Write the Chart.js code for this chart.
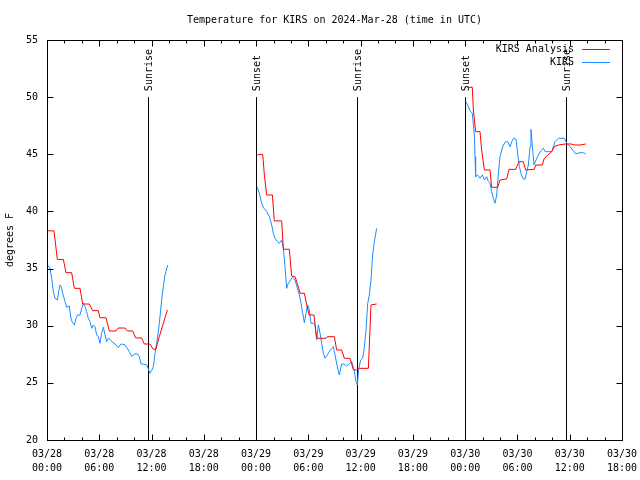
<!DOCTYPE html>
<html lang="en">
<head>
  <meta charset="UTF-8">
  <title>Temperature for KIRS</title>
  <script src="https://cdn.jsdelivr.net/npm/chart.js"></script>
  <style>
    html, body { margin: 0; padding: 0; background: #fff; }
    canvas { display: block; }
  </style>
</head>
<body>
  <canvas id="tempChart" width="640" height="480"></canvas>
  <script>
    // x = hours since 2024-03-28 00:00 UTC, null marks a gap between runs
    const analysisHours = [0.1, 0.8, 1.19, 1.88, 2.18, 2.83, 3.14, 3.79, 4.1, 4.86, 5.24, 5.89, 6.08, 6.77, 7.15, 7.92,
      8.18, 8.95, 9.22, 9.83, 10.18, 10.87, 11.17, 11.82, 12.2, 12.5, 12.89, 13.81, null,
      24.14, 24.76, 24.95, 25.21, 25.87, 26.09, 26.94, 27.13, 27.82, 28.08, 28.47, 28.85, 29.04, 29.54, 29.81, 30.08,
      30.65, 30.88, 31.03, 32.03, 32.18, 32.98, 33.25, 33.82, 34.13, 34.78, 35.17, 35.55, 35.85, 36.89, 37.19, 37.84, null,
      48.2, 48.82, 48.94, 49.2, 49.7, 49.89, 50.2, 50.85, 51.04, 51.73, 52.0, 52.76, 53.03, 53.8, 54.17, 54.67, 54.94,
      55.94, 56.09, 56.85, 57.08, 57.93, 58.23, 58.7, 59.46, 60.15, 60.61, 61.18, 61.83];
    const analysisTemps = [38.3, 38.3, 35.8, 35.8, 34.64, 34.64, 33.27, 33.27, 31.9, 31.9, 31.32, 31.32, 30.7, 30.7, 29.54, 29.54,
      29.8, 29.8, 29.54, 29.54, 28.93, 28.93, 28.4, 28.4, 27.94, 27.94, 29.04, 31.38, null,
      44.94, 45.0, 43.19, 41.44, 41.44, 39.17, 39.17, 36.69, 36.69, 34.35, 34.29, 33.42, 32.84, 32.84, 31.82, 30.94,
      30.94, 29.34, 28.9, 28.9, 29.04, 29.04, 27.88, 27.88, 27.15, 27.15, 26.13, 26.13, 26.27, 26.27, 31.82, 31.9, null,
      50.86, 50.86, 48.88, 46.98, 46.98, 45.38, 43.63, 43.63, 42.11, 42.11, 42.75, 42.84, 43.68, 43.68, 44.35, 44.35, 43.63,
      43.68, 44.06, 44.06, 44.65, 45.23, 45.67, 45.81, 45.9, 45.9, 45.81, 45.81, 45.9];

    const kirsHours = [0.05, 0.34, 0.54, 0.73, 0.92, 1.19, 1.34, 1.49, 1.65, 1.8, 2.07, 2.26, 2.56, 2.75, 2.95, 3.14, 3.33,
      3.52, 3.79, 4.02, 4.17, 4.4, 4.55, 4.74, 4.94, 5.13, 5.32, 5.51, 5.7, 5.89, 6.08, 6.27, 6.47, 6.66, 6.85, 7.04,
      7.23, 7.42, 7.81, 8.0, 8.19, 8.38, 8.57, 8.95, 9.14, 9.45, 9.72, 9.91, 10.1, 10.37, 10.6, 10.79, 11.06, 11.44,
      11.63, 11.82, 12.01, 12.21, 12.4, 12.59, 12.78, 12.97, 13.16, 13.35, 13.54, 13.85, null,
      24.14, 24.37, 24.64, 24.91, 25.22, 25.52, 25.79, 25.98, 26.17, 26.44, 26.67, 26.94, 27.13, 27.32, 27.51, 27.7,
      27.97, 28.2, 28.47, 28.74, 28.97, 29.16, 29.35, 29.54, 29.73, 29.92, 30.11, 30.3, 30.57, 30.76, 30.95, 31.15,
      31.34, 31.53, 31.72, 31.91, 32.18, 32.48, 32.87, 33.06, 33.32, 33.55, 33.82, 34.09, 34.39, 34.7, 34.97, 35.24,
      35.47, 35.62, 35.77, 36.0, 36.23, 36.39, 36.62, 36.81, 37.0, 37.19, 37.38, 37.57, 37.84, null,
      48.09, 48.28, 48.55, 48.82, 49.05, 49.13, 49.2, 49.43, 49.7, 49.97, 50.2, 50.47, 50.66, 50.85, 51.04, 51.23,
      51.42, 51.62, 51.81, 52.0, 52.19, 52.38, 52.65, 52.88, 53.15, 53.34, 53.57, 53.84, 54.03, 54.22, 54.41, 54.6,
      54.87, 55.06, 55.25, 55.44, 55.55, 55.71, 55.9, 56.13, 56.4, 56.71, 56.98, 57.17, 57.93, 58.31, 58.7, 59.39,
      59.66, 60.04, 60.42, 60.69, 61.18, 61.56, 61.83];
    const kirsTemps = [35.31, 35.02, 34.15, 32.98, 32.4, 32.25, 32.98, 33.57, 33.42, 32.84, 32.11, 31.61, 31.73, 30.65, 30.21, 30.07, 30.65,
      30.94, 30.94, 31.61, 31.96, 31.61, 31.23, 30.65, 30.36, 29.77, 30.07, 29.92, 29.19, 29.04, 28.46, 29.34, 29.86, 29.19, 28.61, 28.9,
      28.81, 28.61, 28.4, 28.23, 28.08, 28.32, 28.4, 28.32, 28.11, 27.73, 27.3, 27.44, 27.53, 27.53, 27.3, 26.65, 26.63, 26.57,
      26.22, 25.84, 26.07, 26.42, 27.59, 28.46, 29.48, 30.79, 32.25, 33.42, 34.44, 35.31, null,
      42.11, 41.59, 40.71, 40.27, 39.98, 39.54, 38.82, 38.09, 37.65, 37.36, 37.21, 37.5, 36.77, 35.17, 33.27, 33.71,
      34.0, 34.24, 34.0, 33.27, 32.69, 31.96, 31.09, 30.27, 31.09, 31.82, 31.38, 30.21, 30.21, 30.07, 28.75, 30.07,
      29.34, 28.46, 27.59, 27.15, 27.44, 27.82, 28.17, 27.44, 26.42, 25.69, 26.65, 26.65, 26.48, 26.65, 26.86, 26.13,
      25.11, 24.82, 26.13, 27.0, 27.15, 27.88, 29.63, 31.96, 32.69, 34.0, 36.19, 37.36, 38.52, null,
      49.6, 49.31, 48.82, 48.58, 46.69, 44.79, 43.04, 43.19, 42.9, 43.19, 42.75, 43.04, 42.61, 42.46, 41.73, 41.15,
      40.71, 41.44, 43.33, 44.79, 45.38, 45.81, 46.1, 46.1, 45.67, 46.1, 46.4, 46.31, 45.03, 43.92, 43.33, 42.9,
      42.81, 43.48, 44.06, 45.67, 47.18, 45.67, 44.06, 44.5, 44.94, 45.32, 45.52, 45.23, 45.23, 46.1, 46.4, 46.4,
      45.96, 45.67, 45.29, 45.03, 45.14, 45.14, 45.03];

    const eventHours = [11.6, 24.0, 35.6, 48.0, 59.6];
    const eventLabels = ['Sunrise', 'Sunset', 'Sunrise', 'Sunset', 'Sunrise'];
    const eventTop = 50;

    const xTickLabels = [['03/28', '00:00'], ['03/28', '06:00'], ['03/28', '12:00'], ['03/28', '18:00'],
      ['03/29', '00:00'], ['03/29', '06:00'], ['03/29', '12:00'], ['03/29', '18:00'],
      ['03/30', '00:00'], ['03/30', '06:00'], ['03/30', '12:00'], ['03/30', '18:00']];

    const FONT = '"DejaVu Sans Mono", "Liberation Mono", monospace';

    function toPoints(hours, temps) {
      let last = 0;
      return hours.map((h, i) => {
        if (h === null) return { x: last + 0.5, y: null };
        last = h;
        return { x: h, y: temps[i] };
      });
    }

    // gnuplot-like frame: inward ticks, event markers, key in the corner
    const gnuplotFrame = {
      id: 'gnuplotFrame',
      beforeDatasetsDraw(chart) {
        const { ctx, chartArea: a, scales: { x, y } } = chart;
        ctx.save();
        ctx.strokeStyle = '#000';
        ctx.fillStyle = '#000';
        ctx.lineWidth = 1;
        ctx.font = '10px ' + FONT;
        const top = y.getPixelForValue(eventTop);
        eventHours.forEach((h, i) => {
          const px = Math.round(x.getPixelForValue(h)) + 0.5;
          ctx.beginPath();
          ctx.moveTo(px, top);
          ctx.lineTo(px, a.bottom);
          ctx.stroke();
          ctx.save();
          ctx.translate(px + 1, top - 6);
          ctx.rotate(-Math.PI / 2);
          ctx.textAlign = 'left';
          ctx.textBaseline = 'middle';
          ctx.fillText(eventLabels[i], 0, 0);
          ctx.restore();
        });
        ctx.restore();
      },
      afterDatasetsDraw(chart) {
        const { ctx, chartArea: a, scales: { x, y } } = chart;
        const L = Math.round(a.left) + 0.5, R = Math.round(a.right) + 0.5;
        const T = Math.round(a.top) + 0.5, B = Math.round(a.bottom) + 0.5;
        ctx.save();
        ctx.strokeStyle = '#000';
        ctx.lineWidth = 1;
        ctx.beginPath();
        for (let h = x.min; h <= x.max; h += 2) {
          const px = Math.round(x.getPixelForValue(h)) + 0.5;
          const len = h % 6 === 0 ? 6 : 3;
          ctx.moveTo(px, B); ctx.lineTo(px, B - len);
          ctx.moveTo(px, T); ctx.lineTo(px, T + len);
        }
        for (let v = y.min; v <= y.max; v += 5) {
          const py = Math.round(y.getPixelForValue(v)) + 0.5;
          ctx.moveTo(L, py); ctx.lineTo(L + 6, py);
          ctx.moveTo(R, py); ctx.lineTo(R - 6, py);
        }
        ctx.stroke();
        ctx.strokeRect(L, T, R - L, B - T);

        // key
        ctx.font = '10px ' + FONT;
        ctx.textAlign = 'right';
        ctx.textBaseline = 'middle';
        chart.data.datasets.forEach((ds, i) => {
          const ky = Math.round(a.top + 9 + i * 13) + 0.5;
          ctx.fillStyle = '#000';
          ctx.fillText(ds.label, a.right - 48, ky);
          ctx.strokeStyle = ds.borderColor;
          ctx.beginPath();
          ctx.moveTo(a.right - 40, ky);
          ctx.lineTo(a.right - 12, ky);
          ctx.stroke();
        });
        ctx.restore();
      }
    };

    Chart.defaults.font.family = FONT;
    Chart.defaults.font.size = 10;
    Chart.defaults.color = '#000';

    new Chart(document.getElementById('tempChart'), {
      type: 'line',
      data: {
        datasets: [
          {
            label: 'KIRS Analysis',
            data: toPoints(analysisHours, analysisTemps),
            borderColor: '#ff0000',
            borderWidth: 1,
            pointRadius: 0,
            tension: 0,
            spanGaps: false
          },
          {
            label: 'KIRS',
            data: toPoints(kirsHours, kirsTemps),
            borderColor: '#1a8cff',
            borderWidth: 1,
            pointRadius: 0,
            tension: 0,
            spanGaps: false
          }
        ]
      },
      options: {
        responsive: false,
        animation: false,
        devicePixelRatio: 1,
        layout: { padding: { left: 0, right: 18, top: 0, bottom: 0 } },
        plugins: {
          legend: { display: false },
          tooltip: { enabled: false },
          title: {
            display: true,
            text: 'Temperature for KIRS on 2024-Mar-28 (time in UTC)',
            fullSize: false,
            font: { size: 10, weight: 'normal' },
            padding: { top: 14, bottom: 14 }
          }
        },
        scales: {
          x: {
            type: 'linear',
            min: 0,
            max: 66,
            grid: { display: false, drawTicks: false },
            border: { display: false },
            afterFit(scale) {
              scale.height = 40;
              scale.paddingLeft = 0;
              scale.paddingRight = 0;
            },
            ticks: {
              stepSize: 6,
              autoSkip: false,
              maxRotation: 0,
              padding: 7,
              font: { size: 10, lineHeight: 1.4 },
              callback: (v) => xTickLabels[Math.round(v / 6)]
            }
          },
          y: {
            min: 20,
            max: 55,
            grid: { display: false, drawTicks: false },
            border: { display: false },
            afterFit(scale) { scale.width = 47; },
            ticks: { stepSize: 5, padding: 9 },
            title: {
              display: true,
              text: 'degrees F',
              padding: { top: 4, bottom: 0 }
            }
          }
        }
      },
      plugins: [gnuplotFrame]
    });
  </script>
</body>
</html>
